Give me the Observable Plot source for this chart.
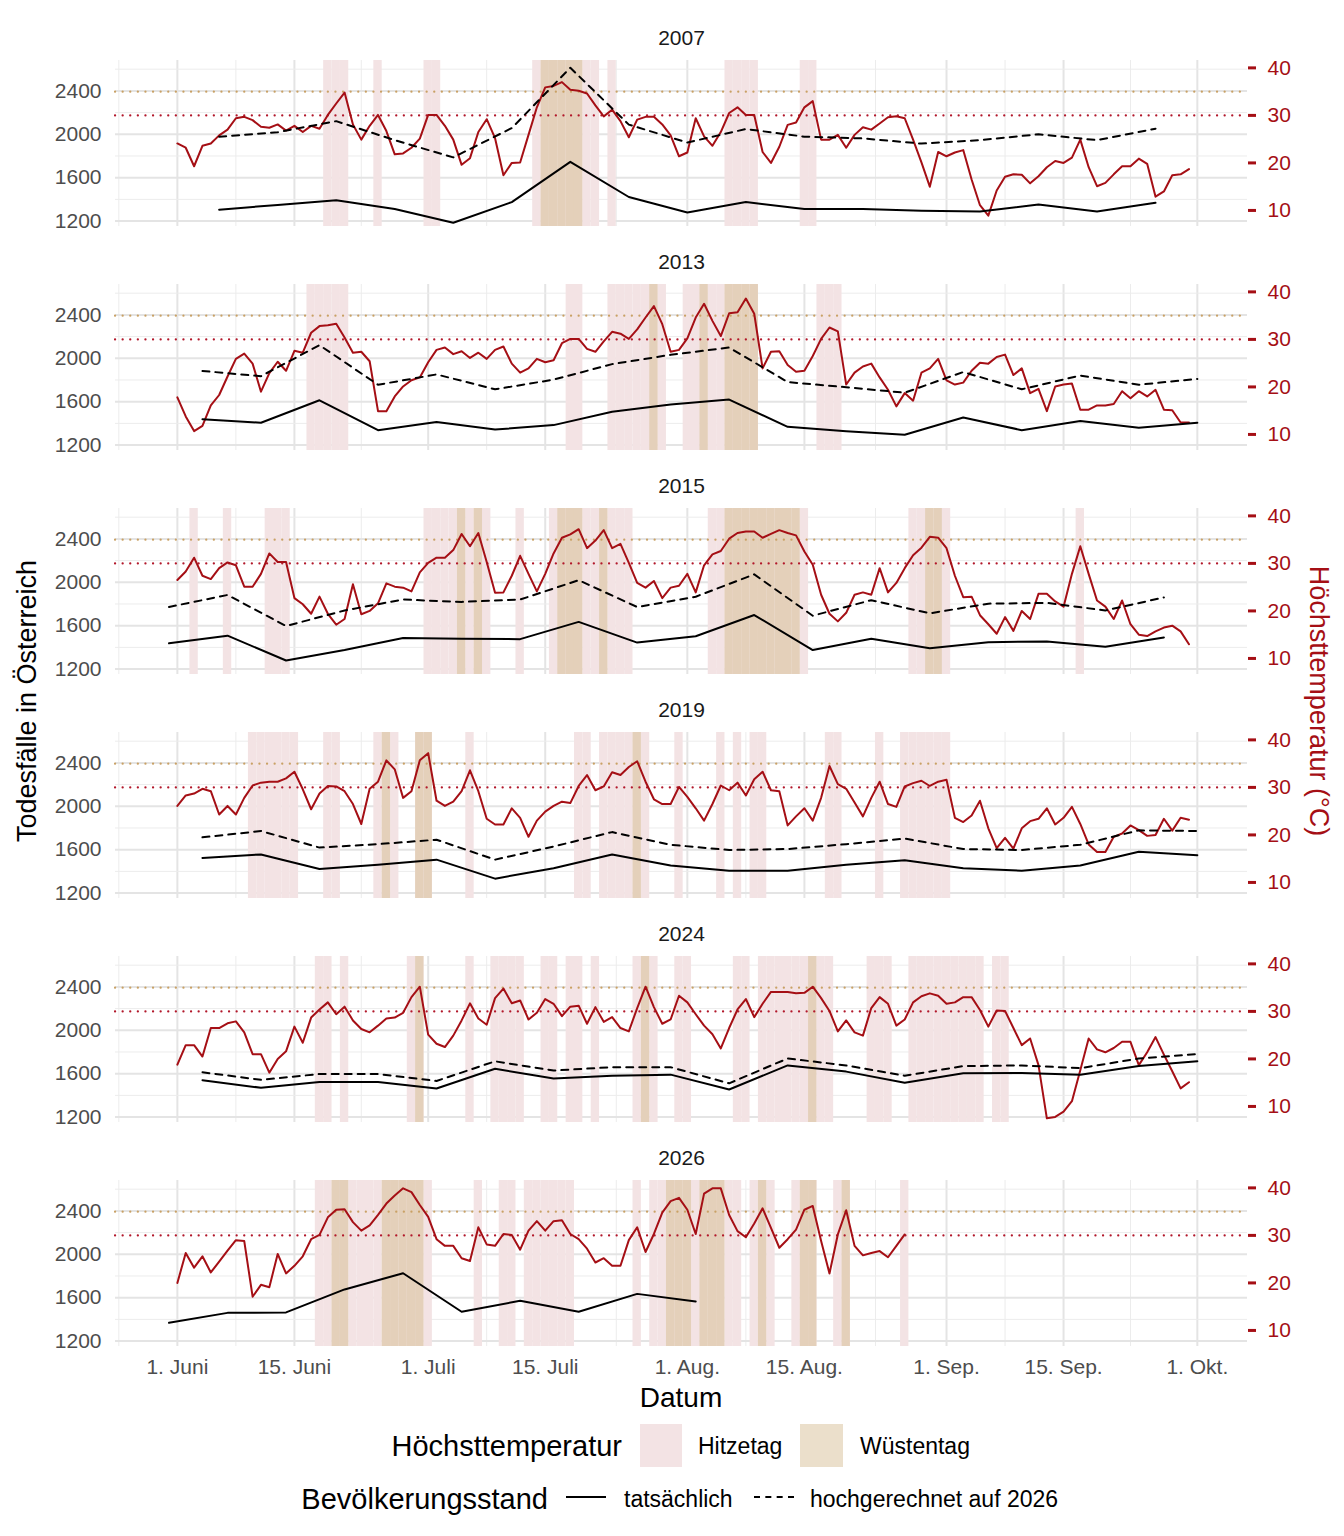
<!DOCTYPE html>
<html><head><meta charset="utf-8">
<script src="https://cdn.jsdelivr.net/npm/d3@7"></script>
<script src="https://cdn.jsdelivr.net/npm/@observablehq/plot@0.6"></script>
<style>
body{margin:0;background:#fff;font-family:"Liberation Sans",Arial,sans-serif;}
#wrap{position:relative;width:1344px;height:1536px;}
.t{position:absolute;white-space:nowrap;line-height:1;}
</style></head><body><div id="wrap"></div>
<script>
const years = [2007, 2013, 2015, 2019, 2024, 2026];
// daily maximum temperature (°C), starting 1 June
const t2007 = [24.1,23.2,19.3,23.6,24.1,25.8,27,29.4,29.7,29,27.6,27.4,28.1,26.8,27.8,26.5,27.8,27.2,30.1,32.5,34.8,28.1,24.9,27.8,30.1,26.7,21.8,22,23.2,25.1,30.1,30.1,27.8,24.9,19.6,21,26.5,29.2,25.2,17.4,20,20.1,25.9,31.7,35.9,36.2,37,35.4,35.2,34.6,32.1,29.8,31.2,28.8,25.4,29.1,29.7,29.7,28.1,25.8,21.4,22.2,29.4,25.6,23.6,26.5,30.5,31.7,30.1,30.1,22.3,20,23.4,28,28.5,31.7,33,24.9,24.9,25.9,23.2,25.9,27.5,27,28.3,29.6,29.8,29.4,24.9,20.1,15,22.3,21.4,22.2,22.7,16.5,11.1,8.9,14.2,17.1,17.6,17.5,15.7,17.2,19.1,20.4,20,21.1,24.9,19.1,15.1,15.8,17.6,19.3,19.3,20.9,19.8,12.9,14,17.4,17.6,18.7];
const t2013 = [17.8,13.8,10.7,11.8,16.1,18.3,22.2,25.9,27,24.9,19,22.9,25.3,23.4,27.6,27.2,31.4,32.8,33,33.3,30.4,27.2,27.4,25.4,14.9,14.9,18,20.1,21.4,22,25.2,27.8,28.3,26.9,27.5,26.1,27.2,25.9,27.8,28.5,24.9,23,23.9,25.9,25.2,25.6,29.2,30.1,30.1,28,27.4,29.6,31.6,31.2,30.1,32.1,34.6,37,33.2,27.4,27.8,30.2,34.6,37.5,33.9,30.7,35.5,35.7,38.6,35.4,23.9,27.4,27.5,24.6,23.2,23.4,26.5,30.1,32.5,31.7,20.5,23,24.3,24.9,22,19.4,15.9,18.7,17.1,23,23.9,25.9,21.4,20.5,20.9,23.4,25.1,24.9,26.3,26.8,22.5,23.9,18.7,19.6,14.9,20.1,20.5,20.7,15.2,15.2,16.1,16.1,16.4,19.1,17.6,19.1,18,19.4,15.2,15.1,12.5,12.5];
const t2015 = [26.5,28.3,31.2,27.4,26.7,29,30.2,29.6,25.1,25.1,27.8,32.1,30.3,30.3,22.7,21.4,19.4,23,19.4,17.1,18.3,25.6,19.3,20,21.6,25.8,25.1,24.9,24.1,28.1,30.1,31.2,31.2,32.8,36.2,33.6,36.4,30.3,23.8,23.9,27.4,31.6,27.8,24.1,27.8,32.1,35.4,36.1,37.2,33.2,34.8,37,33.2,34.1,30.1,25.9,24.9,26.3,22.7,24.9,25.3,27.8,23.9,29.6,31.9,32.6,35.2,36.4,36.7,36.7,35.4,36.2,37,36.4,35.9,32.5,29.7,23.4,19.4,17.8,19.6,23.4,23.9,23.4,29,23.9,25.9,29,31.7,33.3,35.6,35.4,33.2,27.4,22.9,23,19.1,17.2,15.2,18.7,15.8,20,18.3,23.6,23.6,22,20.9,27.8,33.6,27.8,22.2,20.9,18.3,22.2,17.2,15,14.7,15.7,16.5,16.9,15.7,13];
const t2019 = [26.1,28.3,28.7,29.7,29.2,24.3,26.1,24.3,27.8,30.4,31,31.2,31.2,31.9,33.3,29.6,25.4,28.7,30.3,30.2,29.2,26.5,22.3,29.7,31.2,35.7,33.8,27.8,29.2,35.7,37.2,27.2,26.1,27,29.2,33.6,29.2,23.4,22.2,22.2,25.6,23.6,19.6,23,24.9,26.1,27,26.7,30.3,32.6,29.4,30.2,33.2,32.6,34.3,35.5,31.2,27.5,26.5,26.5,30.1,28,25.6,23,26.5,30.4,29.4,31,28.3,31.7,33.3,29.4,29.2,22,23.9,25.6,23,27.8,34.5,30.7,29.7,26.8,23.9,27.8,31.2,26.5,25.9,30.2,30.9,31.4,30.3,31.2,31.6,23.6,22.7,24.1,27.2,21.4,17.2,19.4,17.1,21.4,22.9,23.4,25.6,22.2,23.6,25.9,22.3,18,16.4,16.4,19.6,20.3,22,21,19.8,20,23.4,20.9,23.6,23.2];
const t2024 = [18.8,22.9,22.9,20.5,26.5,26.5,27.5,27.9,25.6,21,21,17.1,20,21.6,26.8,23.4,28.7,30.4,31.9,29.4,31,28.1,26.3,25.6,27,28.5,28.7,29.7,33,35.2,25.1,23.2,22.5,24.9,28.1,31.7,28.5,27.2,32.8,34.8,31.7,32.3,28.3,29.7,32.6,31.6,29,31,31.2,27.4,30.9,27.8,28.8,26.5,25.8,30.7,35.2,30.9,27.4,28.3,33.3,31.9,29.4,27,25.2,22.2,26.5,30.4,32.6,28.8,31.6,34.1,34.1,34.1,33.8,33.9,35.2,32.8,30.1,25.8,28.1,25.6,24.9,30.7,33,31.6,27,28.3,31.9,33.2,33.8,33.3,31.6,31.9,33,33,30.3,26.8,30.2,30.1,26.5,22.9,24.3,18.7,7.5,7.8,8.9,11.1,17.6,24.3,22,21.4,22.3,23.6,23.6,18.7,21.4,24.6,20.9,17.4,13.8,15.1];
const t2026 = [20,26.3,23.2,25.6,22.2,24.5,26.8,29,28.8,17.1,19.6,19.1,26.1,22,23.6,25.6,29.2,30.1,33.8,35.4,35.5,32.8,31,32.1,34.3,36.7,38.4,39.9,39.1,36.4,33.9,29.2,27.8,27.8,25.2,24.6,31.7,28.1,27.8,30.3,30.1,27,31,33,31,33,33.2,30.3,29.2,27.2,24.3,25.2,23.6,23.6,29,31.7,26.5,30.3,34.8,37.2,37.9,35.4,30.3,38.8,39.9,39.9,34.3,30.9,29.6,32.5,35.7,31.6,27.4,29.2,31.2,35.4,36.2,28.8,22,30.2,35.3,27.8,25.8,26.3,26.7,25.4,27.8,30.2];
// weekly deaths: first week offset (days after 1 June), actual, projected to 2026 population
const weekOffset = [5, 3, -1, 3, 3, -1];
const a2007 = [1305,1349,1391,1311,1184,1375,1746,1422,1279,1375,1311,1311,1295,1289,1352,1289,1368];
const p2007 = [1978,2019,2121,1946,1787,2057,2613,2089,1924,2048,1978,1962,1914,1946,2000,1946,2051];
const a2013 = [1438,1406,1613,1337,1413,1343,1384,1508,1575,1619,1368,1327,1295,1454,1337,1422,1359,1406];
const p2013 = [1883,1835,2121,1756,1851,1714,1803,1946,2032,2099,1781,1733,1683,1873,1714,1841,1756,1810];
const a2015 = [1438,1508,1279,1375,1486,1479,1476,1635,1444,1502,1698,1375,1479,1391,1448,1454,1406,1492];
const p2015 = [1772,1883,1597,1740,1841,1819,1841,2019,1772,1867,2073,1692,1835,1714,1803,1810,1740,1860];
const a2019 = [1524,1556,1422,1460,1508,1333,1429,1556,1454,1406,1406,1460,1502,1429,1406,1454,1581,1549];
const p2019 = [1714,1772,1619,1651,1692,1508,1629,1762,1645,1597,1606,1651,1702,1606,1597,1645,1778,1772];
const a2024 = [1540,1470,1524,1524,1464,1645,1556,1581,1591,1454,1676,1619,1517,1603,1606,1591,1670,1714];
const p2024 = [1613,1543,1597,1597,1533,1714,1629,1660,1660,1511,1740,1676,1581,1670,1676,1651,1740,1781];
const a2026 = [1368,1460,1464,1676,1825,1470,1571,1470,1635,1565];
const p2026 = [];
const xTickLabels = ["1. Juni","15. Juni","1. Juli","15. Juli","1. Aug.","15. Aug.","1. Sep.","15. Sep.","1. Okt."];
const tempTicks = [10, 20, 30, 40];
const deathTicks = [1200, 1600, 2000, 2400];

const T = [t2007,t2013,t2015,t2019,t2024,t2026];
const A = [a2007,a2013,a2015,a2019,a2024,a2026];
const P = [p2007,p2013,p2015,p2019,p2024,p2026];
const toD = t => 1298 + 43.8*(t-10);
const fromD = d => (d-1298)/43.8 + 10;
const day = i => new Date(Date.UTC(2001,5,1) + i*86400000);
const H = 43200000;

const temps = years.flatMap((y,k)=>T[k].map((t,i)=>({year:y,i,date:day(i),t,d:toD(t)})));
const hot = temps.filter(r=>r.t>=30), desert = temps.filter(r=>r.t>=35);
const act = years.flatMap((y,k)=>A[k].map((v,j)=>({year:y,date:day(weekOffset[k]+7*j),v})));
const proj = years.flatMap((y,k)=>P[k].map((v,j)=>({year:y,date:day(weekOffset[k]+7*j),v})));

const majorX = [0,14,30,44,61,75,92,106,122].map(day);
const minorX = [-7,7,22,37,52.5,68,83.5,99,114].map(day);
const majorY = deathTicks, minorY = [1400,1800,2200,2600];
const red = "#a50f15";

const plot = Plot.plot({
  width:1344, height:1416, marginTop:60, marginBottom:70, marginLeft:115, marginRight:97,
  style:{fontFamily:"Liberation Sans, Arial, sans-serif", fontSize:"21px", color:"#4d4d4d"},
  x:{type:"utc", domain:[day(-7.4), day(128)]},
  y:{domain:[1150,2680]},
  fy:{domain:years, paddingInner:0.259, paddingOuter:0, axis:null},
  marks:[
    Plot.ruleX(minorX,{stroke:"#ececec",strokeWidth:1}),
    Plot.ruleX(majorX,{stroke:"#e4e4e4",strokeWidth:2}),
    Plot.ruleY(minorY,{stroke:"#ececec",strokeWidth:1}),
    Plot.ruleY(majorY,{stroke:"#e4e4e4",strokeWidth:2}),
    Plot.rect(hot,{x1:r=>new Date(+r.date-H),x2:r=>new Date(+r.date+H),fy:"year",fill:"#f3e3e4"}),
    Plot.rect(desert,{x1:r=>new Date(+r.date-H),x2:r=>new Date(+r.date+H),fy:"year",fill:"#e4d0ba"}),
    Plot.ruleY([toD(35)],{stroke:"#c9a165",strokeWidth:2.2,strokeDasharray:"0.1,7.5",strokeLinecap:"round"}),
    Plot.ruleY([toD(30)],{stroke:"#b2182b",strokeWidth:2.2,strokeDasharray:"0.1,7.5",strokeLinecap:"round"}),
    Plot.line(temps,{x:"date",y:"d",fy:"year",stroke:red,strokeWidth:2}),
    Plot.line(proj,{x:"date",y:"v",fy:"year",stroke:"#000",strokeWidth:2,strokeDasharray:"7,6"}),
    Plot.line(act,{x:"date",y:"v",fy:"year",stroke:"#000",strokeWidth:2}),
    Plot.text(years,{fy:d=>d,text:d=>String(d),frameAnchor:"top",dy:-30,fontSize:21,fill:"#1a1a1a"}),
    Plot.axisY({ticks:deathTicks,tickFormat:d=>String(d),tickSize:0,tickPadding:14,label:null,fontSize:21,fill:"#4d4d4d"}),
    Plot.axisY({anchor:"right",ticks:tempTicks.map(toD),tickFormat:d=>String(Math.round(fromD(d))),tickSize:8,tickPadding:12,label:null,stroke:red,fill:red,strokeWidth:3,fontSize:21}),
    Plot.axisX({ticks:majorX,tickFormat:(d,i)=>xTickLabels[i],tickSize:0,tickPadding:13,label:null,fontSize:21,fill:"#4d4d4d"})
  ]
});
const wrap = document.getElementById("wrap");
plot.style.position="absolute"; plot.style.left="0"; plot.style.top="0";
wrap.appendChild(plot);

function txt(s,x,y,size,opts={}){
  const e=document.createElement("div"); e.className="t"; e.textContent=s;
  e.style.fontSize=size+"px"; e.style.left=x+"px"; e.style.top=y+"px";
  e.style.color=opts.color||"#000";
  e.style.transform=opts.tf||"translate(0,-50%)";
  wrap.appendChild(e); return e;
}
function box(x,y,w,h,bg,extra){
  const e=document.createElement("div"); e.style.position="absolute";
  e.style.left=x+"px"; e.style.top=y+"px"; e.style.width=w+"px"; e.style.height=h+"px";
  if(bg) e.style.background=bg; if(extra) e.style.cssText+=extra; wrap.appendChild(e);
}
txt("Datum",681,1398,28,{tf:"translate(-50%,-50%)"});
txt("Todesfälle in Österreich",27,701,27,{tf:"translate(-50%,-50%) rotate(-90deg)"});
txt("Höchsttemperatur (°C)",1318,701,27,{color:red,tf:"translate(-50%,-50%) rotate(90deg)"});
txt("Höchsttemperatur",622,1446,29,{tf:"translate(-100%,-50%)"});
box(640,1424,42,43,"#f3e3e4");
txt("Hitzetag",698,1446,23);
box(800,1424,43,43,"#ebdfcb");
txt("Wüstentag",860,1446,23);
txt("Bevölkerungsstand",548,1499,29,{tf:"translate(-100%,-50%)"});
box(566,1496,40,0,null,"border-top:2px solid #000;");
txt("tatsächlich",624,1499,23);
box(754,1496,40,0,null,"border-top:2px dashed #000;");
txt("hochgerechnet auf 2026",810,1499,23);
</script></body></html>
